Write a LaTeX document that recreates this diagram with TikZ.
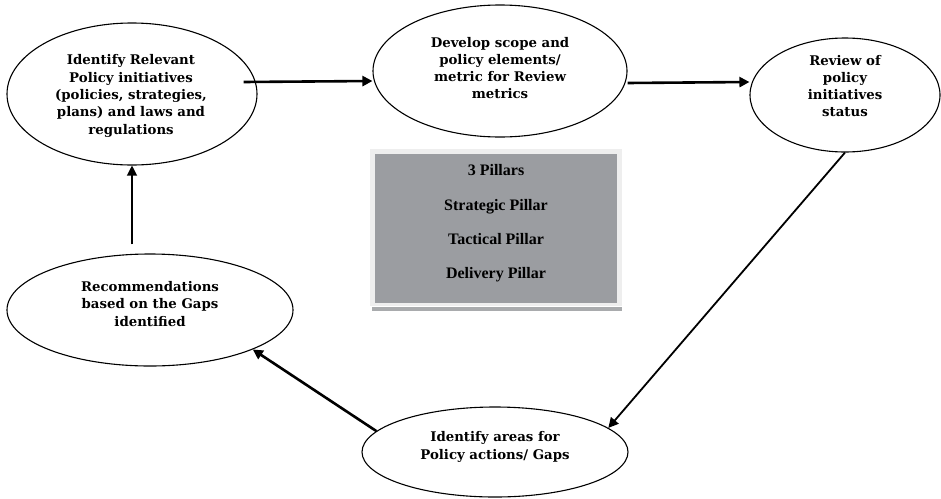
\documentclass[tikz,border=0pt]{standalone}
\usepackage{fontspec}
\setmainfont{Liberation Serif}
\newfontfamily\bubblefont{DejaVu Serif}
\usetikzlibrary{shapes.geometric,arrows.meta}
\definecolor{pillargray}{HTML}{9B9DA1}
\definecolor{boxframe}{HTML}{EEEEEE}
\definecolor{boxshadow}{HTML}{A9ABAD}
\tikzset{
  bubble/.style={draw, ellipse, line width=1.1pt, inner sep=0pt},
  btext/.style={align=center, font=\bubblefont\bfseries\fontsize{13.3}{17.3}\selectfont},
  ptext/.style={align=center, font=\bfseries\fontsize{16}{34.3}\selectfont},
  flow/.style={-{Triangle[length=10pt,width=10pt]}, line width=2.6pt},
  midflow/.style={-{Triangle[length=10pt,width=10pt]}, line width=1.8pt},
  thinflow/.style={-{Triangle[length=10pt,width=10pt]}, line width=1.2pt}
}
\begin{document}
\begin{tikzpicture}[x=1pt,y=-1pt]
\useasboundingbox (0,0) rectangle (941,498);
% ellipses
\node [bubble, minimum width=250pt, minimum height=142pt] (idr) at (132,94) {};
\node [btext] (idrtxt) at (131,96) {Identify Relevant\\Policy initiatives\\(policies, strategies,\\plans) and laws and\\regulations};
\node [bubble, minimum width=254pt, minimum height=132pt] (dev) at (500,71) {};
\node [btext] (devtxt) at (500,68) {Develop scope and\\policy elements/\\metric for Review\\metrics};
\node [bubble, minimum width=190pt, minimum height=114pt] (rev) at (845,95) {};
\node [btext] (revtxt) at (845,86) {Review of\\policy\\initiatives\\status};
\node [bubble, minimum width=286pt, minimum height=112pt] (rec) at (150,310) {};
\node [btext] (rectxt) at (150,304) {Recommendations\\based on the Gaps\\identified};
\node [bubble, minimum width=266pt, minimum height=90pt] (gap) at (495,452) {};
\node [btext] (gaptxt) at (495,447) {Identify areas for\\Policy actions/ Gaps};
% pillar box
\fill [boxframe] (370,149) rectangle (622,306);
\fill [pillargray] (375,154) rectangle (617,303);
\fill [boxshadow] (372,307) rectangle (622,311);
\node [ptext] (pillars) at (496,223.5) {3 Pillars\\Strategic Pillar\\Tactical Pillar\\Delivery Pillar};
% connectors
\draw [flow] ([xshift=-14pt,yshift=12pt]idr.east) -- ([yshift=-10pt]dev.west);
\draw [flow] ([yshift=-12pt]dev.east) -- ([yshift=13pt]rev.west);
\draw [midflow] (rev.south) -- (gap.12);
\draw [flow] (gap.170) -- (rec.-21);
\draw [thinflow] (idr.south |- rec.north) ++(0,-9) -- (idr.south);
\end{tikzpicture}
\end{document}
